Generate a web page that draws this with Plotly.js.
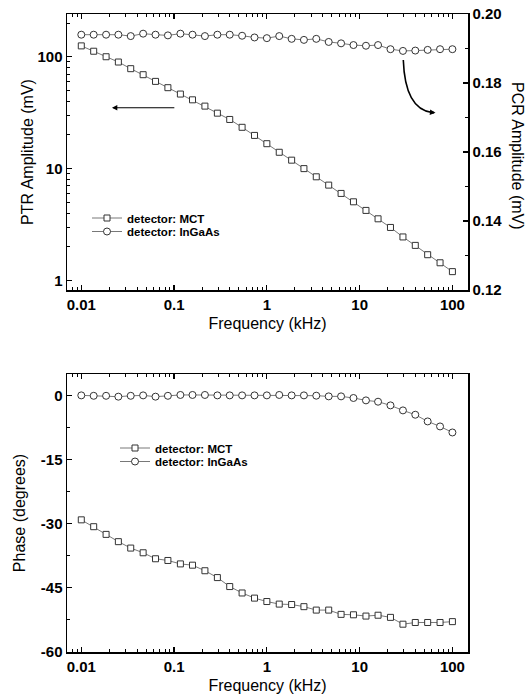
<!DOCTYPE html>
<html>
<head>
<meta charset="utf-8">
<script src="https://cdn.plot.ly/plotly-3.0.1.min.js"></script>
<style>html,body{margin:0;padding:0;background:#fff;}#chart{width:532px;height:696px;}</style>
</head>
<body>
<div id="chart"></div>
<script>
// Frequency (kHz)
const freq = [0.01, 0.0136, 0.0185, 0.0251, 0.0341, 0.0464, 0.0631, 0.0858, 0.117, 0.158, 0.215, 0.293, 0.398, 0.541, 0.736, 1, 1.36, 1.85, 2.51, 3.41, 4.64, 6.31, 8.58, 11.7, 15.8, 21.5, 29.3, 39.8, 54.1, 73.6, 100];
// PTR amplitude (mV), detector MCT (left log axis)
const ampMCT = [125, 112, 100, 89.7, 78.2, 69.1, 60.2, 52.9, 46.4, 41.2, 36.2, 31.3, 27.5, 23.4, 19.8, 16.7, 14.0, 11.9, 10.0, 8.45, 7.12, 6.0, 5.05, 4.23, 3.56, 2.98, 2.45, 2.06, 1.70, 1.44, 1.20];
// PCR amplitude (mV), detector InGaAs (right axis)
const ampInGaAs = [0.1940, 0.1940, 0.1940, 0.1940, 0.1936, 0.1943, 0.1940, 0.1938, 0.1943, 0.1940, 0.1936, 0.1940, 0.1940, 0.1937, 0.1932, 0.1930, 0.1936, 0.1928, 0.1925, 0.1928, 0.1919, 0.1915, 0.1910, 0.1908, 0.1910, 0.1898, 0.1893, 0.1894, 0.1896, 0.1898, 0.1898];
// Phase (degrees)
const phaseMCT = [-29.1, -30.7, -32.5, -34.2, -35.7, -36.8, -38.2, -38.6, -39.4, -39.7, -41.0, -42.6, -44.7, -46.2, -47.4, -48.2, -48.8, -48.9, -49.4, -50.2, -50.2, -51.2, -51.3, -51.6, -51.4, -51.9, -53.5, -53.1, -53.1, -53.1, -52.9];
const phaseInGaAs = [0, -0.1, -0.1, -0.3, -0.1, 0, -0.3, -0.1, 0.1, 0.1, 0.1, 0, 0, 0, 0, 0, 0.1, 0, 0, -0.07, -0.23, -0.23, -0.61, -1.17, -1.48, -2.34, -3.51, -4.52, -6.09, -7.26, -8.67];

const seriesNames = ['detector: MCT', 'detector: InGaAs'];
const xTickVals = [0.01, 0.1, 1, 10, 100];
const xTickText = ['0.01', '0.1', '1', '10', '100'];
const yLogTickVals = [1, 10, 100];
const yLogTickText = ['1', '10', '100'];
const phaseTickVals = [-60, -45, -30, -15, 0];
const phaseTickText = ['-60', '-45', '-30', '-15', '0'];

const FONT = 'Liberation Sans, Arial, sans-serif';
const tickFont = {family: FONT, size: 15, color: '#000', weight: 700};
const titleFont = {family: FONT, size: 16, color: '#000'};
const legFont = {family: FONT, size: 11.5, color: '#000', weight: 700};

function logMinor(decStart, decEnd, maxV) {
  const v = [];
  for (let d = decStart; d <= decEnd; d++) {
    for (let m = 2; m <= 9; m++) { const t = m * Math.pow(10, d); if (t <= maxV) v.push(t); }
  }
  return v;
}

const lineStyle = {color: '#555', width: 0.8};
const sq = {symbol: 'square', size: 6, color: '#fff', line: {color: '#333', width: 1}};
const ci = {symbol: 'circle', size: 7, color: '#fff', line: {color: '#333', width: 1}};

const traces = [
  {x: freq, y: ampMCT, xaxis: 'x', yaxis: 'y', mode: 'lines+markers', name: seriesNames[0], line: lineStyle, marker: sq, legend: 'legend'},
  {x: freq, y: ampInGaAs, xaxis: 'x', yaxis: 'y2', mode: 'lines+markers', name: seriesNames[1], line: lineStyle, marker: ci, legend: 'legend2'},
  {x: freq, y: phaseMCT, xaxis: 'x2', yaxis: 'y3', mode: 'lines+markers', name: seriesNames[0], line: lineStyle, marker: sq, legend: 'legend3'},
  {x: freq, y: phaseInGaAs, xaxis: 'x2', yaxis: 'y3', mode: 'lines+markers', name: seriesNames[1], line: lineStyle, marker: ci, legend: 'legend4'}
];

const W = 532, H = 696, ML = 67, MR = 64, MT = 14, MB = 44;
const PW = W - ML - MR, PH = H - MT - MB;
const px = x => (x - ML) / PW;
const py = y => (H - MB - y) / PH;

const commonX = {
  type: 'log', range: [-2.154, 2.168],
  tickmode: 'array', tickvals: xTickVals, ticktext: xTickText,
  ticks: 'inside', ticklen: 5, tickwidth: 1.2, tickcolor: '#000',
  minor: {tickmode: 'array', tickvals: logMinor(-3, 2, 150), ticks: 'inside', ticklen: 3, tickwidth: 1, tickcolor: '#000'},
  showline: true, linewidth: 1.5, linecolor: '#000', mirror: 'ticks',
  showgrid: false, zeroline: false, tickfont: tickFont,
  title: {text: 'Frequency (kHz)', font: titleFont, standoff: 6}
};

const legendBase = {bgcolor: 'rgba(0,0,0,0)', borderwidth: 0, font: legFont, xanchor: 'left', yanchor: 'middle'};

const layout = {
  width: W, height: H,
  margin: {l: ML, r: MR, t: MT, b: MB},
  paper_bgcolor: '#fff', plot_bgcolor: '#fff',
  showlegend: true,
  xaxis: Object.assign({}, commonX, {domain: [0, 1], anchor: 'y'}),
  yaxis: {
    domain: [py(290), 1], anchor: 'x', type: 'log', range: [-0.085, 2.382],
    tickmode: 'array', tickvals: yLogTickVals, ticktext: yLogTickText,
    ticks: 'inside', ticklen: 5, tickwidth: 1.2, tickcolor: '#000',
    minor: {tickmode: 'array', tickvals: logMinor(0, 2, 240), ticks: 'inside', ticklen: 3, tickwidth: 1, tickcolor: '#000'},
    showline: true, linewidth: 1.5, linecolor: '#000', mirror: true,
    showgrid: false, zeroline: false, tickfont: tickFont,
    title: {text: 'PTR Amplitude (mV)', font: titleFont, standoff: 0}
  },
  yaxis2: {
    overlaying: 'y', side: 'right', anchor: 'x', range: [0.12, 0.20],
    tickmode: 'linear', tick0: 0.12, dtick: 0.02, tickformat: '.2f',
    ticks: 'inside', ticklen: 5, tickwidth: 1.2, tickcolor: '#000',
    minor: {dtick: 0.01, ticks: 'inside', ticklen: 3, tickwidth: 1, tickcolor: '#000'},
    showline: true, linewidth: 1.5, linecolor: '#000',
    showgrid: false, zeroline: false, tickfont: tickFont
  },
  xaxis2: Object.assign({}, commonX, {domain: [0, 1], anchor: 'y3'}),
  yaxis3: {
    domain: [0, py(374)], anchor: 'x2', range: [-60, 5],
    tickmode: 'array', tickvals: phaseTickVals, ticktext: phaseTickText,
    ticks: 'inside', ticklen: 5, tickwidth: 1.2, tickcolor: '#000',
    minor: {tick0: -60, dtick: 7.5, ticks: 'inside', ticklen: 3, tickwidth: 1, tickcolor: '#000'},
    showline: true, linewidth: 1.5, linecolor: '#000', mirror: true,
    showgrid: false, zeroline: false, tickfont: tickFont,
    title: {text: 'Phase (degrees)', font: titleFont, standoff: 11}
  },
  legend: Object.assign({}, legendBase, {x: px(87), y: py(218)}),
  legend2: Object.assign({}, legendBase, {x: px(87), y: py(231.5)}),
  legend3: Object.assign({}, legendBase, {x: px(115), y: py(448)}),
  legend4: Object.assign({}, legendBase, {x: px(115), y: py(461.5)}),
  annotations: [
    {xref: 'paper', yref: 'paper', x: px(518), y: py(156), text: 'PCR Amplitude (mV)', textangle: 90,
     showarrow: false, font: titleFont, xanchor: 'center', yanchor: 'middle'},
    // straight arrow pointing to left axis
    {xref: 'x', yref: 'y', axref: 'x', ayref: 'y',
     x: Math.log10(0.0214), y: Math.log10(35), ax: Math.log10(0.1045), ay: Math.log10(35),
     text: '', showarrow: true, arrowhead: 2, arrowsize: 0.9, arrowwidth: 1.2, arrowcolor: '#000'},
    // head of curved arrow pointing to right axis
    {xref: 'paper', yref: 'paper', x: px(435.5), y: py(112.8), ax: -6, ay: -0.6,
     text: '', showarrow: true, arrowhead: 2, arrowsize: 0.7, arrowwidth: 1.6, arrowcolor: '#000'}
  ],
  shapes: [
    {type: 'path', xref: 'paper', yref: 'paper',
     path: 'M ' + px(403.3) + ',' + py(60) + ' Q ' + px(405) + ',' + py(109) + ' ' + px(432) + ',' + py(112.5),
     line: {color: '#000', width: 1.6}}
  ]
};

Plotly.newPlot('chart', traces, layout, {staticPlot: true, displayModeBar: false});
</script>
</body>
</html>
